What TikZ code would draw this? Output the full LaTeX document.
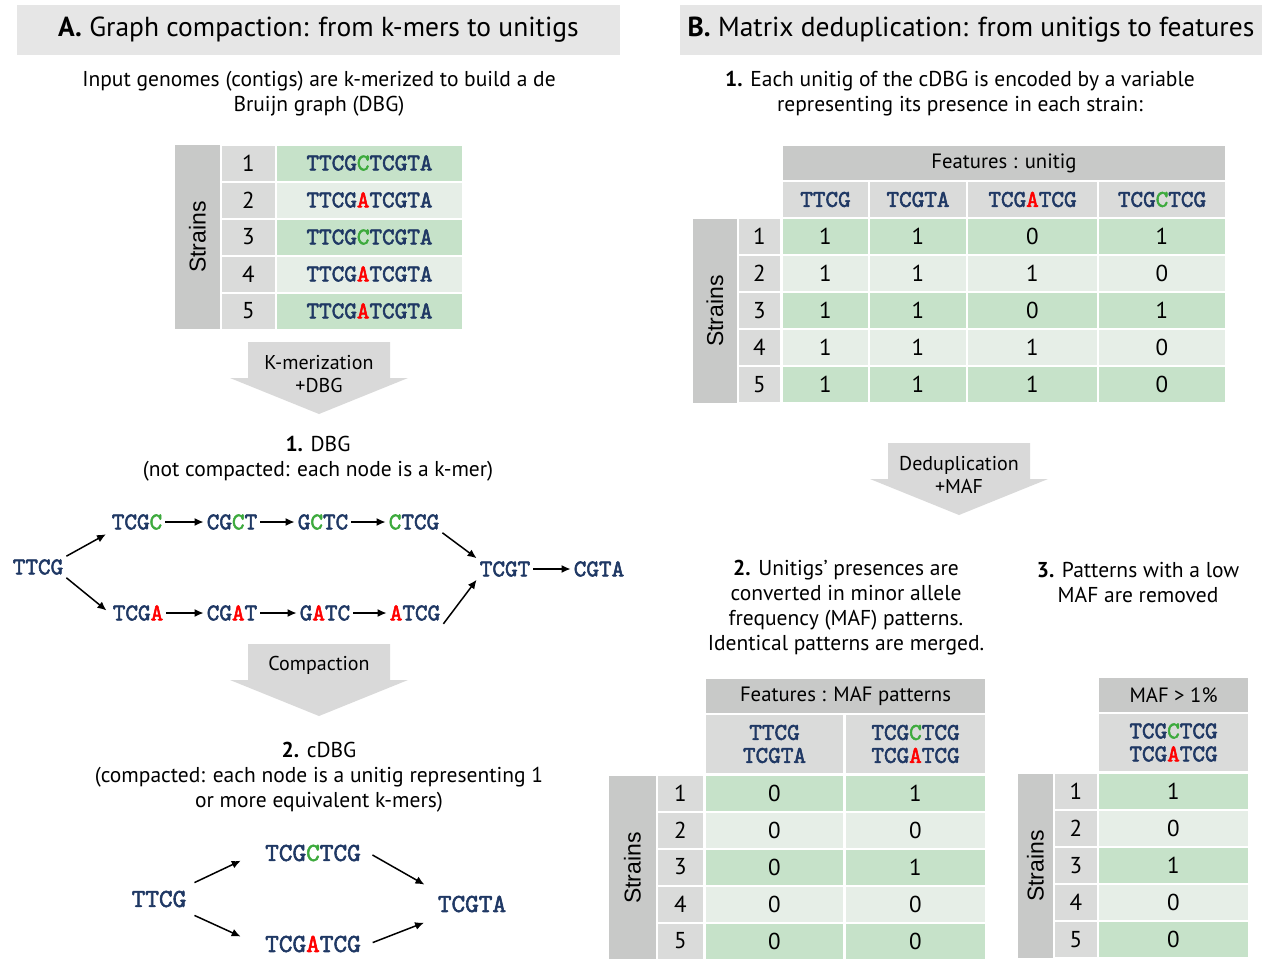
\documentclass[tikz,border=0pt]{standalone}
\usepackage{fontspec}
\setmainfont{PT Sans}
\newfontfamily\strainfont{Liberation Sans}
\newfontfamily\seqfont{lmmono10-regular.otf}[FakeBold=2.2]
\usetikzlibrary{positioning, arrows.meta}

\definecolor{hdrgray}{HTML}{E6E6E6}
\definecolor{strgray}{HTML}{C8C9C8}
\definecolor{numgray}{HTML}{DADBDA}
\definecolor{dkgreen}{HTML}{C6E2C9}
\definecolor{ltgreen}{HTML}{E6EEE7}
\definecolor{arrgray}{HTML}{D9D9D9}
\definecolor{seqblue}{HTML}{1F3864}
\definecolor{snpgreen}{HTML}{3DAA3D}
\definecolor{snpred}{HTML}{FF0000}

\newcommand{\snpC}{\textcolor{snpgreen}{C}}
\newcommand{\snpA}{\textcolor{snpred}{A}}

\tikzset{
  x=1pt, y=-1pt, % one unit per pixel, y pointing down
  >={Latex[length=9pt,width=8pt]}, % filled arrow heads
  banner/.style={fill=hdrgray, minimum height=50pt, font=\fontsize{27.5}{32}\selectfont}, % section headers
  explain/.style={align=center, font=\fontsize{21.5}{25}\selectfont}, % explanation texts
  kmer/.style={font=\seqfont\fontsize{24}{26}\selectfont, text=seqblue, inner sep=3pt}, % graph nodes
  unitig/.style={kmer, font=\seqfont\fontsize{26}{28}\selectfont, inner sep=8pt}, % compacted nodes
  link/.style={->, line width=1.5pt}, % graph edges
  strains/.style={fill=strgray, inner sep=0pt, rotate=90, font=\strainfont\fontsize{23}{28}\selectfont},
  tcell/.style={inner sep=0pt, minimum height=35pt, font=\fontsize{23}{26}\selectfont},
  idx/.style={tcell, fill=numgray},
  rowdk/.style={tcell, fill=dkgreen},
  rowlt/.style={tcell, fill=ltgreen},
  seqcell/.style={font=\seqfont\fontsize{24}{26}\selectfont, text=seqblue},
  colhead/.style={fill=numgray, inner sep=0pt, align=center, font=\seqfont\fontsize{24}{23}\selectfont, text=seqblue},
  feathead/.style={fill=strgray, inner sep=0pt, minimum height=34pt, font=\fontsize{20.7}{24}\selectfont},
  flowarrow/.pic={\fill[arrgray] (-71,0) -- (71,0) -- (71,36) -- (89,36) -- (0,72) -- (-89,36) -- (-71,36) -- cycle;},
  flowtext/.style={align=center, font=\fontsize{20}{23}\selectfont},
}

\begin{document}
\begin{tikzpicture}
  \fill[white] (0,0) rectangle (1263,958);
  \useasboundingbox (0,0) rectangle (1263,958);

  % headers
  \node[banner, minimum width=603pt] (headA) at (318.5,30) {\textbf{A.} Graph compaction: from k-mers to unitigs};
  \node[banner, minimum width=582pt] (headB) at (971,30) {\textbf{B.} Matrix deduplication: from unitigs to features};

  % A: input strains
  \node[explain] (introA) at (319,93.5) {Input genomes (contigs) are k-merized to build a de\\Bruijn graph (DBG)};
  \node[strains, minimum width=184pt, minimum height=45pt] (strA) at (197.5,237) {Strains};
  \node[idx, minimum width=53pt] (a1) at (248.5,163) {1};
  \node[idx, minimum width=53pt] (a2) at (248.5,200) {2};
  \node[idx, minimum width=53pt] (a3) at (248.5,237) {3};
  \node[idx, minimum width=53pt] (a4) at (248.5,274) {4};
  \node[idx, minimum width=53pt] (a5) at (248.5,311) {5};
  \node[rowdk, seqcell, minimum width=185pt] (g1) at (369.5,163) {TTCG\snpC TCGTA};
  \node[rowlt, seqcell, minimum width=185pt] (g2) at (369.5,200) {TTCG\snpA TCGTA};
  \node[rowdk, seqcell, minimum width=185pt] (g3) at (369.5,237) {TTCG\snpC TCGTA};
  \node[rowlt, seqcell, minimum width=185pt] (g4) at (369.5,274) {TTCG\snpA TCGTA};
  \node[rowdk, seqcell, minimum width=185pt] (g5) at (369.5,311) {TTCG\snpA TCGTA};

  \pic at (319,342) {flowarrow};
  \node[flowtext] (kmerize) at (319,374) {K-merization\\+DBG};

  % A.1: DBG
  \node[explain] (dbgcap) at (318,459) {\textbf{1.} DBG\\(not compacted: each node is a k-mer)};
  \node[kmer] (ttcg) at (38,567) {TTCG};
  \node[kmer] (tcgc) at (137,522) {TCG\snpC};
  \node[kmer] (cgct) at (232,522) {CG\snpC T};
  \node[kmer] (gctc) at (323,522) {G\snpC TC};
  \node[kmer] (ctcg) at (414,522) {\snpC TCG};
  \node[kmer] (tcga) at (138,613) {TCG\snpA};
  \node[kmer] (cgat) at (232,613) {CG\snpA T};
  \node[kmer] (gatc) at (325,613) {G\snpA TC};
  \node[kmer] (atcg) at (415,613) {\snpA TCG};
  \node[kmer] (tcgt) at (505,569) {TCGT};
  \node[kmer] (cgta) at (599,569) {CGTA};

  \draw[link, shorten >=3pt] (ttcg.north east) -- (tcgc.south west);
  \draw[link, shorten >=4pt] (ttcg.south east) -- (tcga.west);
  \draw[link] (tcgc) -- (cgct);
  \draw[link] (cgct) -- (gctc);
  \draw[link] (gctc) -- (ctcg);
  \draw[link] (tcga) -- (cgat);
  \draw[link] (cgat) -- (gatc);
  \draw[link] (gatc) -- (atcg);
  \draw[link] (ctcg.south east) -- (tcgt.north west);
  \draw[link] (atcg.south east) -- (tcgt.south west);
  \draw[link] (tcgt) -- (cgta);

  \pic at (319,644) {flowarrow};
  \node[flowtext] (compact) at (319,665) {Compaction};

  % A.2: cDBG
  \node[explain] (cdbgcap) at (319,777.5) {\textbf{2.} cDBG\\(compacted: each node is a unitig representing 1\\or more equivalent k-mers)};
  \node[unitig] (ttcgB) at (159,899) {TTCG};
  \node[unitig] (tcgctcg) at (313,853) {TCG\snpC TCG};
  \node[unitig] (tcgatcg) at (313,944) {TCG\snpA TCG};
  \node[unitig] (tcgta) at (472,904) {TCGTA};

  \draw[link, shorten >=18pt] (ttcgB.north east) -- (tcgctcg.west);
  \draw[link, shorten >=18pt] (ttcgB.south east) -- (tcgatcg.west);
  \draw[link, shorten <=4pt, shorten >=6pt] (tcgctcg.east) -- (tcgta.north west);
  \draw[link, shorten <=4pt, shorten >=6pt] (tcgatcg.east) -- (tcgta.south west);

  % B.1: unitig matrix
  \node[explain] (introB) at (960,93.5) {\textbf{1.} Each unitig of the cDBG is encoded by a variable\\representing its presence in each strain:};
  \node[feathead, minimum width=442pt] (featU) at (1004,163) {Features : unitig};
  \node[colhead, minimum width=85pt, minimum height=35pt] (u1) at (825.5,199.5) {TTCG};
  \node[colhead, minimum width=96pt, minimum height=35pt] (u2) at (918,199.5) {TCGTA};
  \node[colhead, minimum width=129pt, minimum height=35pt] (u3) at (1032.5,199.5) {TCG\snpA TCG};
  \node[colhead, minimum width=126pt, minimum height=35pt] (u4) at (1162,199.5) {TCG\snpC TCG};
  \node[strains, minimum width=184pt, minimum height=44pt] (strB) at (715,311) {Strains};
  \node[idx, minimum width=41pt] (b1) at (759.5,236.5) {1};
  \node[idx, minimum width=41pt] (b2) at (759.5,273.5) {2};
  \node[idx, minimum width=41pt] (b3) at (759.5,310.5) {3};
  \node[idx, minimum width=41pt] (b4) at (759.5,347.5) {4};
  \node[idx, minimum width=41pt] (b5) at (759.5,384.5) {5};
  \node[rowdk, minimum width=85pt] at (825.5,236.5) {1};  \node[rowdk, minimum width=96pt] at (918,236.5) {1};
  \node[rowdk, minimum width=129pt] at (1032.5,236.5) {0}; \node[rowdk, minimum width=126pt] at (1162,236.5) {1};
  \node[rowlt, minimum width=85pt] at (825.5,273.5) {1};  \node[rowlt, minimum width=96pt] at (918,273.5) {1};
  \node[rowlt, minimum width=129pt] at (1032.5,273.5) {1}; \node[rowlt, minimum width=126pt] at (1162,273.5) {0};
  \node[rowdk, minimum width=85pt] at (825.5,310.5) {1};  \node[rowdk, minimum width=96pt] at (918,310.5) {1};
  \node[rowdk, minimum width=129pt] at (1032.5,310.5) {0}; \node[rowdk, minimum width=126pt] at (1162,310.5) {1};
  \node[rowlt, minimum width=85pt] at (825.5,347.5) {1};  \node[rowlt, minimum width=96pt] at (918,347.5) {1};
  \node[rowlt, minimum width=129pt] at (1032.5,347.5) {1}; \node[rowlt, minimum width=126pt] at (1162,347.5) {0};
  \node[rowdk, minimum width=85pt] at (825.5,384.5) {1};  \node[rowdk, minimum width=96pt] at (918,384.5) {1};
  \node[rowdk, minimum width=129pt] at (1032.5,384.5) {1}; \node[rowdk, minimum width=126pt] at (1162,384.5) {0};

  \pic at (959,443) {flowarrow};
  \node[flowtext] (dedup) at (959,474.5) {Deduplication\\+MAF};

  % B.2: MAF patterns
  \node[explain] (mafcap) at (846,608) {\textbf{2.} Unitigs' presences are\\converted in minor allele\\frequency (MAF) patterns.\\Identical patterns are merged.};
  \node[feathead, minimum width=279pt] (featM) at (845.5,696) {Features : MAF patterns};
  \node[colhead, minimum width=137pt, minimum height=58pt] (m1) at (774.5,744) {TTCG\\TCGTA};
  \node[colhead, minimum width=139pt, minimum height=58pt] (m2) at (915.5,744) {TCG\snpC TCG\\TCG\snpA TCG};
  \node[strains, minimum width=184pt, minimum height=47pt] (strM) at (632.5,868) {Strains};
  \node[idx, minimum width=45pt] (c1) at (680.5,793) {1};
  \node[idx, minimum width=45pt] (c2) at (680.5,830) {2};
  \node[idx, minimum width=45pt] (c3) at (680.5,867) {3};
  \node[idx, minimum width=45pt] (c4) at (680.5,904) {4};
  \node[idx, minimum width=45pt] (c5) at (680.5,941) {5};
  \node[rowdk, minimum width=137pt] at (774.5,793) {0}; \node[rowdk, minimum width=139pt] at (915.5,793) {1};
  \node[rowlt, minimum width=137pt] at (774.5,830) {0}; \node[rowlt, minimum width=139pt] at (915.5,830) {0};
  \node[rowdk, minimum width=137pt] at (774.5,867) {0}; \node[rowdk, minimum width=139pt] at (915.5,867) {1};
  \node[rowlt, minimum width=137pt] at (774.5,904) {0}; \node[rowlt, minimum width=139pt] at (915.5,904) {0};
  \node[rowdk, minimum width=137pt] at (774.5,941) {0}; \node[rowdk, minimum width=139pt] at (915.5,941) {0};

  % B.3: filtered patterns
  \node[explain] (filtcap) at (1138,582.5) {\textbf{3.} Patterns with a low\\MAF are removed};
  \node[feathead, minimum width=149pt] (featF) at (1173.5,695) {MAF > 1\%};
  \node[colhead, minimum width=149pt, minimum height=57pt] (f1) at (1173.5,742.5) {TCG\snpC TCG\\TCG\snpA TCG};
  \node[strains, minimum width=184pt, minimum height=35pt] (strF) at (1035.5,866) {Strains};
  \node[idx, minimum width=42pt] (d1) at (1076,791.5) {1};
  \node[idx, minimum width=42pt] (d2) at (1076,828.5) {2};
  \node[idx, minimum width=42pt] (d3) at (1076,865.5) {3};
  \node[idx, minimum width=42pt] (d4) at (1076,902.5) {4};
  \node[idx, minimum width=42pt] (d5) at (1076,939.5) {5};
  \node[rowdk, minimum width=149pt] at (1173.5,791.5) {1};
  \node[rowlt, minimum width=149pt] at (1173.5,828.5) {0};
  \node[rowdk, minimum width=149pt] at (1173.5,865.5) {1};
  \node[rowlt, minimum width=149pt] at (1173.5,902.5) {0};
  \node[rowdk, minimum width=149pt] at (1173.5,939.5) {0};
\end{tikzpicture}
\end{document}
